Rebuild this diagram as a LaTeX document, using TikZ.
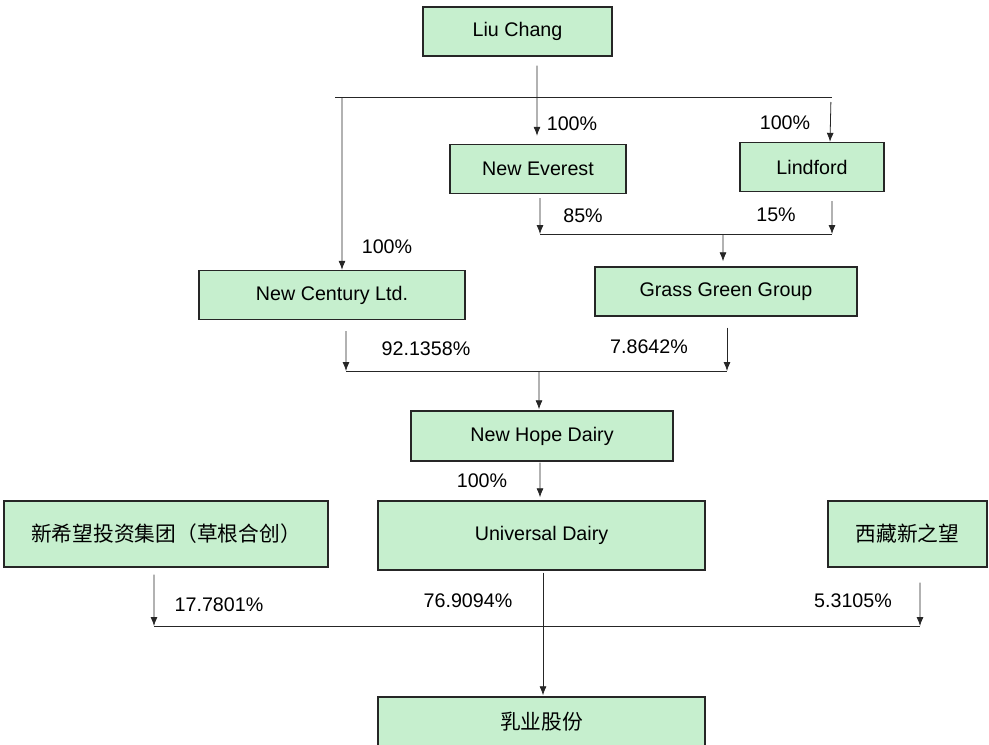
\documentclass[tikz,border=0pt]{standalone}
\usepackage{fontspec}
\setmainfont{Liberation Sans}
\newfontfamily\cjk{Noto Sans CJK SC}
\usetikzlibrary{arrows.meta}
\definecolor{boxgreen}{RGB}{198,239,206}

\tikzset{
  holder/.style={draw=black!85, fill=boxgreen, line width=0.8pt, minimum height=0.98cm,
    inner sep=0pt, font=\fontsize{11.2}{13}\selectfont},
  cjkholder/.style={holder, minimum height=1.32cm, font=\cjk\fontsize{11.8}{14}\selectfont},
  link/.style={-{Latex[length=1.8mm,width=1.4mm]}, line width=0.45pt, black!85},
  bar/.style={line width=0.45pt, black!85},
  share/.style={inner sep=0pt, font=\fontsize{11.2}{13}\selectfont},
}

\begin{document}
\begin{tikzpicture}[x=0.02cm,y=-0.02cm]
    \useasboundingbox (0,0) rectangle (989,744);
    \begin{scope}
    \clip (0,0) rectangle (989,744);
    % holders
    \node[holder, minimum width=3.78cm] (liu) at (517.5,31.5) {Liu Chang};
    \node[holder, minimum width=3.52cm] (everest) at (538,169) {New Everest};
    \node[holder, minimum width=2.88cm] (lindford) at (812,167) {Lindford};
    \node[holder, minimum width=5.32cm] (century) at (332,295) {New Century Ltd.};
    \node[holder, minimum width=5.24cm] (grass) at (726,291.5) {Grass Green Group};
    \node[holder, minimum width=5.24cm, minimum height=1cm] (hope) at (542,436) {New Hope Dairy};
    \node[holder, minimum width=6.54cm, minimum height=1.38cm] (universal) at (541.5,535.5) {Universal Dairy};
    \node[cjkholder, minimum width=6.48cm] (xinxiwang) at (166,534) {新希望投资集团（草根合创）};
    \node[cjkholder, minimum width=3.18cm] (xizang) at (907.5,534) {西藏新之望};
    \node[cjkholder, minimum width=6.54cm, minimum height=1cm] (dairyshares) at (541.5,722) {乳业股份};

    % junction points
    \coordinate (bar1l) at (335,97);
    \coordinate (bar1m) at (342,97);
    \coordinate (bar1r) at (832,97);
    \coordinate (bar2l) at (540,234);
    \coordinate (bar2m) at (723,234);
    \coordinate (bar2r) at (832,234);
    \coordinate (bar3l) at (346,371);
    \coordinate (bar3m) at (539,371);
    \coordinate (bar3r) at (727,371);
    \coordinate (bar4l) at (154,626);
    \coordinate (bar4r) at (920,626);

    % Liu Chang
    \draw[link, shorten <=0.18cm, shorten >=0.16cm] ([xshift=0.39cm]liu.south) -- ([xshift=-0.02cm]everest.north);
    \draw[bar] (bar1l) -- (bar1r);
    \draw[link] (bar1m) -- ([xshift=0.2cm]century.north);
    \draw[link, shorten <=0.1cm] ([xshift=-0.02cm]bar1r) -- ([xshift=0.36cm]lindford.north);

    % New Everest / Lindford
    \draw[link, shorten <=0.08cm] ([xshift=0.04cm]everest.south) -- (bar2l);
    \draw[link, shorten <=0.18cm] ([xshift=0.4cm]lindford.south) -- (bar2r);
    \draw[bar] (bar2l) -- (bar2r);
    \draw[link, shorten >=0.1cm] (bar2m) -- ([xshift=-0.06cm]grass.north);

    % New Century / Grass Green
    \draw[link, shorten <=0.22cm] ([xshift=0.28cm]century.south) -- (bar3l);
    \draw[link, shorten <=0.22cm] ([xshift=0.02cm]grass.south) -- (bar3r);
    \draw[bar] (bar3l) -- (bar3r);
    \draw[link, shorten >=0.02cm] (bar3m) -- ([xshift=-0.06cm]hope.north);

    % New Hope Dairy / Universal Dairy
    \draw[link, shorten <=0.02cm, shorten >=0.06cm] ([xshift=-0.04cm]hope.south) -- ([xshift=-0.03cm]universal.north);
    \draw[link, shorten <=0.04cm, shorten >=0.02cm] ([xshift=0.03cm]universal.south) -- ([xshift=0.03cm]dairyshares.north);
    \draw[link, shorten <=0.14cm] ([xshift=-0.24cm]xinxiwang.south) -- (bar4l);
    \draw[link, shorten <=0.3cm] ([xshift=0.25cm]xizang.south) -- (bar4r);
    \draw[bar] (bar4l) -- (bar4r);

    % shares
    \node[share] (s1) at (572,124) {100\%};
    \node[share] (s2) at (785,123) {100\%};
    \node[share] (s3) at (387,247) {100\%};
    \node[share] (s4) at (583,216) {85\%};
    \node[share] (s5) at (776,215) {15\%};
    \node[share] (s6) at (426,349) {92.1358\%};
    \node[share] (s7) at (649,347) {7.8642\%};
    \node[share] (s8) at (482,481) {100\%};
    \node[share] (s9) at (219,605) {17.7801\%};
    \node[share] (s10) at (468,601) {76.9094\%};
    \node[share] (s11) at (853,601) {5.3105\%};
    \end{scope}
\end{tikzpicture}
\end{document}
